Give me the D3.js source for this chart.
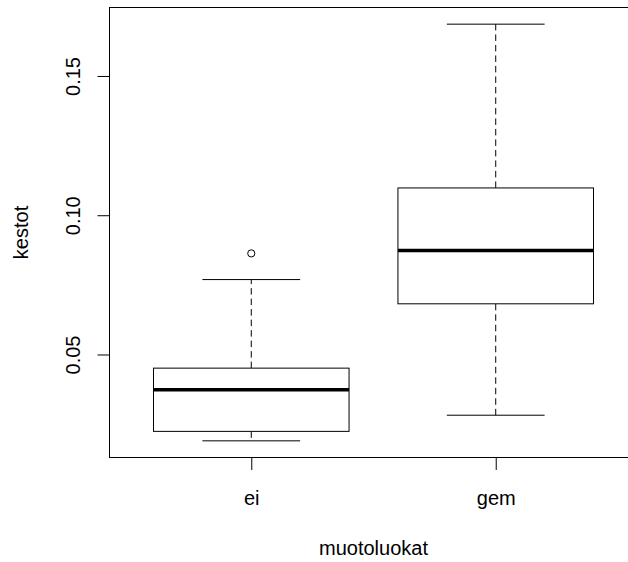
<!DOCTYPE html>
<html>
<head>
<meta charset="utf-8">
<script src="https://cdn.jsdelivr.net/npm/d3@7"></script>
<style>
  html, body { margin: 0; padding: 0; background: #fff; }
  svg { display: block; }
  text { font-family: "Liberation Sans", Arial, sans-serif; fill: #000; }
</style>
</head>
<body>
<svg id="chart" width="628" height="562"></svg>
<script>
// Box statistics per group of "muotoluokat"
const groups = ["ei", "gem"];
const lowerWhisker = [0.0190, 0.0282];
const q1 = [0.0224, 0.0682];
const medians = [0.0373, 0.0873];
const q3 = [0.0451, 0.1098];
const upperWhisker = [0.0769, 0.1686];
const outliers = [[0.0863], []];
const yTicks = [0.05, 0.10, 0.15];

const svg = d3.select("#chart");
const W = 628, H = 562;
const plot = { left: 109.5, right: 637.5, top: 7.5, bottom: 457.5 };

// y range: data extent padded by 4% on each side
const allVals = [].concat(lowerWhisker, upperWhisker, outliers.flat());
const lo = d3.min(allVals), hi = d3.max(allVals);
const pad = (hi - lo) * 0.04;
const y = d3.scaleLinear().domain([lo - pad, hi + pad]).range([plot.bottom, plot.top]);

// x: groups at positions 1..n, range [0.5, n+0.5] padded by 4%
const n = groups.length;
const xr = n, xpad = xr * 0.04;
const x = d3.scaleLinear().domain([0.5 - xpad, n + 0.5 + xpad]).range([plot.left, plot.right]);
const unit = x(2) - x(1);
const boxW = 0.8 * unit;
const capW = boxW / 2;

const data = groups.map((g, i) => ({
  name: g, pos: i + 1,
  lw: lowerWhisker[i], q1: q1[i], med: medians[i], q3: q3[i], uw: upperWhisker[i],
  out: outliers[i]
}));

const boxes = svg.append("g").selectAll("g").data(data).join("g");

// dashed whiskers
boxes.append("line")
  .attr("x1", d => x(d.pos)).attr("x2", d => x(d.pos))
  .attr("y1", d => y(d.q3)).attr("y2", d => y(d.uw))
  .attr("stroke", "#000").attr("stroke-width", 1).attr("stroke-dasharray", "6.5,4");
boxes.append("line")
  .attr("x1", d => x(d.pos)).attr("x2", d => x(d.pos))
  .attr("y1", d => y(d.q1)).attr("y2", d => y(d.lw))
  .attr("stroke", "#000").attr("stroke-width", 1).attr("stroke-dasharray", "6.5,4");

// staples
["uw", "lw"].forEach(k => {
  boxes.append("line")
    .attr("x1", d => x(d.pos) - capW / 2).attr("x2", d => x(d.pos) + capW / 2)
    .attr("y1", d => y(d[k])).attr("y2", d => y(d[k]))
    .attr("stroke", "#000").attr("stroke-width", 1);
});

// box
boxes.append("rect")
  .attr("x", d => x(d.pos) - boxW / 2).attr("width", boxW)
  .attr("y", d => y(d.q3)).attr("height", d => y(d.q1) - y(d.q3))
  .attr("fill", "#fff").attr("stroke", "#000").attr("stroke-width", 1);

// median
boxes.append("line")
  .attr("x1", d => x(d.pos) - boxW / 2).attr("x2", d => x(d.pos) + boxW / 2)
  .attr("y1", d => y(d.med)).attr("y2", d => y(d.med))
  .attr("stroke", "#000").attr("stroke-width", 3.5);

// outliers
boxes.selectAll("circle").data(d => d.out.map(v => ({ pos: d.pos, v }))).join("circle")
  .attr("cx", d => x(d.pos)).attr("cy", d => y(d.v)).attr("r", 3.6)
  .attr("fill", "none").attr("stroke", "#000").attr("stroke-width", 1);

// plot frame
svg.append("rect")
  .attr("x", plot.left).attr("y", plot.top)
  .attr("width", plot.right - plot.left).attr("height", plot.bottom - plot.top)
  .attr("fill", "none").attr("stroke", "#000").attr("stroke-width", 1);

// y axis
const yAxis = svg.append("g")
  .attr("transform", `translate(${plot.left},0)`)
  .call(d3.axisLeft(y).tickValues(yTicks).tickSize(12).tickFormat(d3.format(".2f")));
yAxis.select(".domain").remove();
yAxis.selectAll("line").attr("stroke", "#000");
yAxis.selectAll("text")
  .attr("x", null).attr("dy", null)
  .attr("text-anchor", "middle")
  .attr("transform", "translate(-29.5,0) rotate(-90)")
  .style("font-size", "20px")
  .style("font-family", "'Liberation Sans', Arial, sans-serif")
  .attr("fill", "#000");

// x axis
const xAxis = svg.append("g")
  .attr("transform", `translate(0,${plot.bottom})`)
  .call(d3.axisBottom(x).tickValues(data.map(d => d.pos)).tickSize(12.5)
    .tickFormat(p => groups[p - 1]));
xAxis.select(".domain").remove();
xAxis.selectAll("line").attr("stroke", "#000");
xAxis.selectAll("text")
  .attr("y", 47.5).attr("dy", null)
  .style("font-size", "20px")
  .style("font-family", "'Liberation Sans', Arial, sans-serif")
  .attr("fill", "#000");

// axis titles
svg.append("text")
  .attr("x", (plot.left + plot.right) / 2).attr("y", 554.5)
  .attr("text-anchor", "middle").style("font-size", "20px")
  .text("muotoluokat");
svg.append("text")
  .attr("transform", `translate(28,${(plot.top + plot.bottom) / 2}) rotate(-90)`)
  .attr("text-anchor", "middle").style("font-size", "20px")
  .text("kestot");
</script>
</body>
</html>
